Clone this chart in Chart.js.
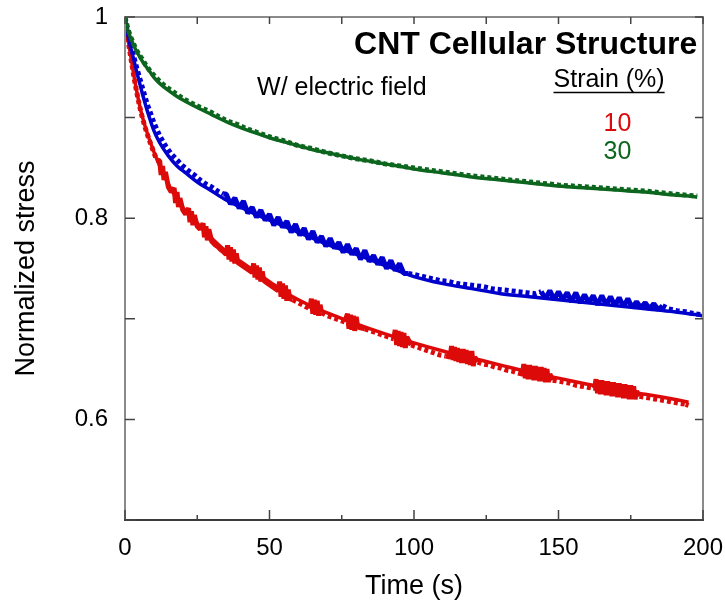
<!DOCTYPE html>
<html>
<head>
<meta charset="utf-8">
<script src="https://cdn.jsdelivr.net/npm/chart.js@4.4.1/dist/chart.umd.min.js"></script>
<style>
  html, body { margin: 0; padding: 0; background: #fff; }
</style>
</head>
<body>
<canvas id="myChart" width="725" height="610"></canvas>
<script>
// tick values
const xLabelValues = [0, 50, 100, 150, 200];
const yLabelValues = [0.6, 0.8, 1];
const xTickValues = [0, 25, 50, 75, 100, 125, 150, 175, 200];
const yTickValues = [0.5, 0.6, 0.7, 0.8, 0.9, 1];

// fitted curves (solid)
const fitTime = [0, 1, 2, 3, 4, 5, 6, 8, 10, 12, 15, 18, 21, 25, 30, 35, 40, 45, 50, 55, 60, 65, 70, 80, 90, 100, 110, 120, 130, 140, 150, 160, 170, 180, 190, 195, 198, 200];
const greenFit = [1.000, 0.987, 0.979, 0.972, 0.966, 0.961, 0.956, 0.948, 0.940, 0.934, 0.927, 0.921, 0.916, 0.910, 0.903, 0.896, 0.890, 0.885, 0.880, 0.876, 0.872, 0.868, 0.865, 0.859, 0.854, 0.849, 0.845, 0.841, 0.838, 0.835, 0.832, 0.830, 0.828, 0.826, 0.823, 0.822, 0.821, null];
const blueFit = [1.000, 0.982, 0.969, 0.958, 0.946, 0.935, 0.924, 0.904, 0.887, 0.875, 0.862, 0.852, 0.845, 0.836, 0.827, 0.818, 0.811, 0.804, 0.798, 0.792, 0.786, 0.780, 0.774, 0.764, 0.753, 0.742, 0.735, 0.730, 0.725, 0.722, 0.719, 0.716, 0.713, 0.710, 0.707, 0.705, 0.704, 0.703];
const redFit = [1.000, 0.979, 0.961, 0.943, 0.927, 0.913, 0.901, 0.882, 0.866, 0.852, 0.834, 0.819, 0.807, 0.795, 0.780, 0.767, 0.757, 0.747, 0.737, 0.727, 0.719, 0.712, 0.706, 0.695, 0.685, 0.676, 0.668, 0.661, 0.654, 0.647, 0.641, 0.635, 0.629, 0.625, 0.620, 0.617, null, null];

// measured data (dotted / noisy)
const greenTime = [0, 1, 2, 3, 4, 5, 6, 7, 8, 9, 10, 12, 14, 16, 18, 20, 22, 24, 27, 30, 33, 36, 39, 42, 45, 48, 51, 55, 60, 65, 70, 75, 80, 85, 90, 95, 100, 110, 120, 130, 140, 150, 160, 170, 180, 190, 198];
const greenData = [1.000, 0.988, 0.980, 0.973, 0.967, 0.962, 0.958, 0.953, 0.949, 0.945, 0.942, 0.936, 0.931, 0.927, 0.923, 0.919, 0.916, 0.913, 0.909, 0.905, 0.900, 0.896, 0.893, 0.889, 0.886, 0.883, 0.880, 0.877, 0.872, 0.869, 0.865, 0.862, 0.859, 0.857, 0.854, 0.852, 0.850, 0.846, 0.842, 0.839, 0.836, 0.833, 0.831, 0.829, 0.827, 0.824, 0.822];

const blueTime = [0, 1, 2, 3, 4, 5, 6, 7, 8, 9, 10, 12, 14, 16, 18, 20, 22, 24, 26, 28, 30, 32, 34,
  35, 36.5, 38, 39.5, 41, 42.5, 44, 45.5, 47, 48.5, 50, 51.5, 53, 54.5, 56, 57.5, 59, 60.5, 62, 63.5,
  65, 66.5, 68, 69.5, 71, 72.5, 74, 75.5, 77, 78.5, 80, 81.5, 83, 84.5, 86, 87.5, 89, 90.5, 92, 93.5, 95, 96.5,
  98, 100, 103, 106, 109, 112, 115, 118, 121, 124, 127, 130, 133, 136, 139, 142,
  144, 145.5, 147, 148.5, 150, 151.5, 153, 154.5, 156, 157.5, 159, 160.5, 162, 163.5,
  165, 166.5, 168, 169.5, 171, 172.5, 174, 175.5, 177, 178.5, 180, 181.5, 183, 184.5, 186,
  188, 191, 194, 197, 200];
const blueData = [1.000, 0.984, 0.972, 0.961, 0.950, 0.940, 0.930, 0.920, 0.911, 0.903, 0.895, 0.882, 0.872, 0.864, 0.858, 0.852, 0.847, 0.843, 0.838, 0.834, 0.831, 0.827, 0.824,
  0.824, 0.814, 0.820, 0.810, 0.817, 0.805, 0.811, 0.801, 0.808, 0.798, 0.804, 0.793, 0.801, 0.791, 0.797, 0.786, 0.794, 0.783, 0.790, 0.779,
  0.787, 0.776, 0.782, 0.772, 0.780, 0.770, 0.776, 0.766, 0.774, 0.764, 0.770, 0.759, 0.768, 0.757, 0.763, 0.754, 0.761, 0.750, 0.758, 0.748, 0.755, 0.745,
  0.745, 0.744, 0.742, 0.740, 0.738, 0.737, 0.735, 0.734, 0.733, 0.732, 0.730, 0.729, 0.728, 0.727, 0.726, 0.725,
  0.727, 0.720, 0.728, 0.719, 0.727, 0.719, 0.726, 0.717, 0.726, 0.716, 0.724, 0.716, 0.723, 0.714,
  0.723, 0.714, 0.722, 0.713, 0.721, 0.712, 0.720, 0.711, 0.717, 0.711, 0.716, 0.710, 0.715, 0.709, 0.713,
  0.710, 0.708, 0.707, 0.705, 0.704];

const redTime = [0, 0.5, 1, 1.5, 2, 3, 4, 5, 6, 7, 8, 9, 10, 11,
  12, 12.5, 13, 13.5, 14, 15, 16,
  17, 17.5, 18, 18.5, 19, 20, 21,
  22, 22.5, 23, 23.5, 24, 25, 26,
  27, 27.5, 28, 28.5, 29, 30, 31, 32, 33, 34, 35,
  35.5, 36, 36.5, 37, 37.5, 38, 38.5, 39, 40, 41, 42, 43, 44,
  44.5, 45, 45.5, 46, 46.5, 47, 47.5, 48, 49, 50, 51, 52, 53,
  53.5, 54, 54.5, 55, 55.5, 56, 56.5, 57, 58, 60, 62, 64,
  64.5, 65, 65.5, 66, 66.5, 67, 67.5, 68, 70, 72, 74, 76,
  77, 77.5, 78, 78.5, 79, 79.5, 80, 80.5, 81.5, 83, 85, 87, 89, 91, 93,
  93.5, 94, 94.5, 95, 95.5, 96, 96.5, 97, 97.5, 99, 101, 103, 105, 107, 109, 111, 112.5,
  113, 113.5, 114, 114.5, 115, 115.5, 116, 116.5, 117, 117.5, 118, 118.5, 119, 119.5, 120, 120.5, 121,
  122, 124, 126, 128, 130, 132, 134, 136, 137.5,
  138, 138.5, 139, 139.5, 140, 140.5, 141, 141.5, 142, 142.5, 143, 143.5, 144, 144.5, 145, 145.5, 146, 146.5, 147,
  148, 150, 152, 154, 156, 158, 160, 162, 162.5,
  163, 163.5, 164, 164.5, 165, 165.5, 166, 166.5, 167, 167.5, 168, 168.5, 169, 169.5,
  170, 170.5, 171, 171.5, 172, 172.5, 173, 173.5, 174, 174.5, 175, 175.5, 176, 176.5, 177,
  178, 180, 182, 184, 186, 188, 190, 192, 194, 195];
const redData = [1.000, 0.990, 0.978, 0.969, 0.960, 0.942, 0.926, 0.912, 0.900, 0.890, 0.881, 0.873, 0.865, 0.858,
  0.857, 0.843, 0.852, 0.838, 0.846, 0.831, 0.826,
  0.830, 0.815, 0.826, 0.811, 0.820, 0.808, 0.804,
  0.810, 0.796, 0.807, 0.793, 0.803, 0.792, 0.789,
  0.795, 0.781, 0.792, 0.778, 0.789, 0.777, 0.774, 0.772, 0.769, 0.767, 0.764,
  0.773, 0.759, 0.771, 0.757, 0.769, 0.755, 0.765, 0.756, 0.754, 0.752, 0.750, 0.748, 0.746,
  0.755, 0.741, 0.753, 0.739, 0.751, 0.737, 0.747, 0.738, 0.736, 0.734, 0.732, 0.730, 0.728,
  0.737, 0.722, 0.735, 0.720, 0.733, 0.718, 0.729, 0.720, 0.719, 0.716, 0.713, 0.710,
  0.720, 0.705, 0.719, 0.704, 0.718, 0.703, 0.714, 0.706, 0.703, 0.701, 0.699, 0.697,
  0.705, 0.690, 0.704, 0.689, 0.703, 0.688, 0.702, 0.692, 0.691, 0.690, 0.688, 0.686, 0.684, 0.682, 0.680,
  0.689, 0.674, 0.688, 0.673, 0.687, 0.672, 0.686, 0.671, 0.682, 0.674, 0.672, 0.670, 0.668, 0.666, 0.664, 0.663, 0.662,
  0.673, 0.659, 0.672, 0.658, 0.671, 0.657, 0.670, 0.656, 0.670, 0.656, 0.669, 0.655, 0.668, 0.654, 0.668, 0.653, 0.662,
  0.657, 0.655, 0.654, 0.652, 0.651, 0.649, 0.648, 0.646, 0.645,
  0.655, 0.641, 0.654, 0.640, 0.654, 0.640, 0.653, 0.639, 0.653, 0.639, 0.652, 0.638, 0.652, 0.638, 0.651, 0.637, 0.650, 0.637, 0.645,
  0.639, 0.638, 0.637, 0.636, 0.634, 0.633, 0.632, 0.631, 0.631,
  0.640, 0.626, 0.639, 0.625, 0.639, 0.625, 0.638, 0.624, 0.638, 0.624, 0.637, 0.623, 0.637, 0.623,
  0.636, 0.622, 0.636, 0.622, 0.635, 0.621, 0.635, 0.621, 0.634, 0.620, 0.634, 0.620, 0.633, 0.620, 0.628,
  0.623, 0.622, 0.621, 0.620, 0.619, 0.618, 0.617, 0.616, 0.615, 0.614];

const RED = '#dd0a0a';
const BLUE = '#0000cd';
const GREEN = '#0d661e';
const FONT = "'Liberation Sans', Arial, sans-serif";

function pts(xs, ys) {
  return xs.map((x, i) => ({ x: x, y: ys[i] }));
}

// raw data: dotted where samples are sparse, solid (ragged) where dense and noisy
function dataSet(xs, ys, color) {
  return {
    data: pts(xs, ys), borderColor: color, backgroundColor: color,
    borderWidth: 5, borderJoinStyle: 'bevel', pointRadius: 0, tension: 0, order: 0,
    segment: {
      borderDash: c => {
        const dx = c.p1.parsed.x - c.p0.parsed.x;
        return (dx <= 1.5 && c.p0.parsed.x >= 11) ? undefined : [4, 3];
      }
    }
  };
}
function fitSet(xs, ys, color) {
  return {
    data: pts(xs, ys), borderColor: color, backgroundColor: color,
    borderWidth: 3.5, pointRadius: 0, cubicInterpolationMode: 'monotone', spanGaps: false, order: 1
  };
}

// frame, inward ticks and the text inside the plot
const decorations = {
  id: 'decorations',
  afterDatasetsDraw(chart) {
    const ctx = chart.ctx;
    const a = chart.chartArea;
    const xs = chart.scales.x, ys = chart.scales.y;
    ctx.save();
    ctx.lineCap = 'butt';
    ctx.strokeStyle = '#8a8a8a';
    ctx.lineWidth = 2;
    ctx.beginPath();
    ctx.moveTo(a.left, a.bottom); ctx.lineTo(a.left, a.top);
    ctx.lineTo(a.right, a.top); ctx.lineTo(a.right, a.bottom);
    ctx.stroke();
    ctx.strokeStyle = '#3a3a3a';
    ctx.beginPath();
    ctx.moveTo(a.left - 1, a.bottom); ctx.lineTo(a.right + 1, a.bottom);
    ctx.stroke();

    ctx.lineWidth = 1.5;
    ctx.strokeStyle = '#444';
    ctx.beginPath();
    xTickValues.forEach(v => {
      const px = xs.getPixelForValue(v);
      const len = v % 50 === 0 ? 10 : 5;
      ctx.moveTo(px, a.bottom); ctx.lineTo(px, a.bottom - len);
      ctx.moveTo(px, a.top); ctx.lineTo(px, a.top + 7);
    });
    yTickValues.forEach(v => {
      const py = ys.getPixelForValue(v);
      ctx.moveTo(a.left, py); ctx.lineTo(a.left + 10, py);
      ctx.moveTo(a.right, py); ctx.lineTo(a.right - 8, py);
    });
    ctx.stroke();

    ctx.fillStyle = '#000';
    ctx.textBaseline = 'middle';
    ctx.font = 'bold 32px ' + FONT;
    ctx.textAlign = 'right';
    ctx.fillText('CNT Cellular Structure', xs.getPixelForValue(198), ys.getPixelForValue(0.972));

    ctx.font = '25px ' + FONT;
    ctx.textAlign = 'left';
    ctx.fillText('W/ electric field', xs.getPixelForValue(45.7), ys.getPixelForValue(0.929));

    ctx.textAlign = 'center';
    const sx = xs.getPixelForValue(167.5), sy = ys.getPixelForValue(0.937);
    ctx.fillText('Strain (%)', sx, sy);
    const w = ctx.measureText('Strain (%)').width;
    ctx.lineWidth = 1.5;
    ctx.strokeStyle = '#000';
    ctx.beginPath();
    ctx.moveTo(sx - w / 2, sy + 12); ctx.lineTo(sx + w / 2, sy + 12);
    ctx.stroke();

    ctx.fillStyle = RED;
    ctx.fillText('10', xs.getPixelForValue(170.4), ys.getPixelForValue(0.894));
    ctx.fillStyle = GREEN;
    ctx.fillText('30', xs.getPixelForValue(170.4), ys.getPixelForValue(0.866));
    ctx.restore();
  }
};

const ctx = document.getElementById('myChart');
new Chart(ctx, {
  type: 'line',
  data: {
    datasets: [
      dataSet(greenTime, greenData, GREEN),
      dataSet(blueTime, blueData, BLUE),
      dataSet(redTime, redData, RED),
      fitSet(fitTime, greenFit, GREEN),
      fitSet(fitTime, blueFit, BLUE),
      fitSet(fitTime, redFit, RED)
    ]
  },
  options: {
    responsive: false,
    animation: false,
    devicePixelRatio: 1,
    layout: { padding: { top: 17, right: 22, left: 0, bottom: 0 } },
    plugins: { legend: { display: false }, tooltip: { enabled: false } },
    scales: {
      x: {
        type: 'linear', min: 0, max: 200,
        grid: { display: false, drawTicks: false },
        border: { display: false },
        afterFit(scale) { scale.height = 90; scale.paddingLeft = 0; scale.paddingRight = 0; },
        afterBuildTicks(scale) { scale.ticks = xLabelValues.map(v => ({ value: v })); },
        ticks: { color: '#000', padding: 14, maxRotation: 0, font: { family: FONT, size: 24 } },
        title: { display: true, text: 'Time (s)', color: '#000', padding: { top: 0, bottom: 7 }, font: { family: FONT, size: 27 } }
      },
      y: {
        type: 'linear', min: 0.5, max: 1,
        grid: { display: false, drawTicks: false },
        border: { display: false },
        afterFit(scale) { scale.width = 125; scale.paddingTop = 0; scale.paddingBottom = 0; },
        afterBuildTicks(scale) { scale.ticks = yLabelValues.map(v => ({ value: v })); },
        ticks: { color: '#000', padding: 17, font: { family: FONT, size: 24 }, callback: v => String(v) },
        title: { display: true, text: 'Normalized stress', color: '#000', padding: { top: 10, bottom: 0 }, font: { family: FONT, size: 27 } }
      }
    }
  },
  plugins: [decorations]
});
</script>
</body>
</html>
